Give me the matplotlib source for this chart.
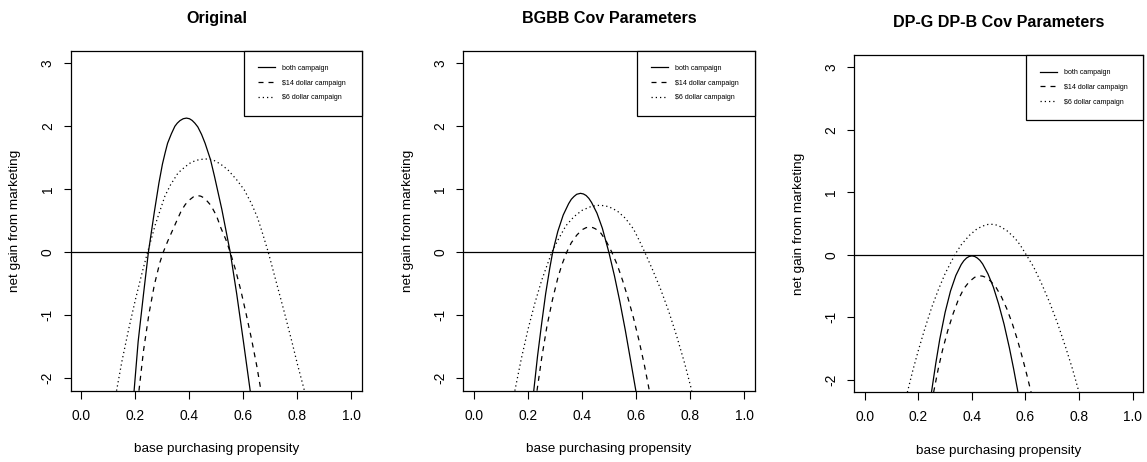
import matplotlib
matplotlib.use("Agg")
from matplotlib import pyplot as plt

plt.rcParams['font.family'] = ['Liberation Sans', 'DejaVu Sans']

panel_titles = ['Original', 'BGBB Cov Parameters', 'DP-G DP-B Cov Parameters']
legend_labels = ['both campaign', r'\$14 dollar campaign', r'\$6 dollar campaign']
x_ticks = [0.0, 0.2, 0.4, 0.6, 0.8, 1.0]
y_ticks = [-2, -1, 0, 1, 2, 3]

# net gain curves, one (x, y) pair per campaign and parameter set
orig_both_x = [0.195, 0.21, 0.23, 0.248, 0.27, 0.287, 0.30, 0.31, 0.319, 0.333, 0.346, 0.355,
               0.365, 0.377, 0.389, 0.40, 0.41, 0.42, 0.431, 0.445, 0.458, 0.478, 0.493,
               0.52, 0.551, 0.575, 0.60, 0.625]
orig_both_y = [-2.2, -1.42, -0.66, 0.0, 0.64, 1.10, 1.40, 1.58, 1.73, 1.88, 2.0, 2.05,
               2.09, 2.12, 2.13, 2.12, 2.093, 2.05, 1.99, 1.87, 1.73, 1.47, 1.20,
               0.68, 0.0, -0.66, -1.42, -2.2]
orig_14_x = [0.213, 0.23, 0.25, 0.27, 0.29, 0.303, 0.32, 0.334, 0.35, 0.37, 0.385, 0.40,
             0.415, 0.429, 0.442, 0.455, 0.468, 0.48, 0.50, 0.517, 0.535, 0.551, 0.57,
             0.59, 0.61, 0.63, 0.65, 0.665]
orig_14_y = [-2.2, -1.56, -0.98, -0.52, -0.17, 0.0, 0.18, 0.315, 0.47, 0.66, 0.76, 0.83,
             0.88, 0.90, 0.89, 0.86, 0.80, 0.74, 0.58, 0.38, 0.20, 0.0, -0.27,
             -0.60, -0.98, -1.38, -1.82, -2.2]
orig_6_x = [0.130, 0.15, 0.175, 0.20, 0.225, 0.245, 0.273, 0.309, 0.33, 0.358, 0.385, 0.407,
            0.435, 0.448, 0.462, 0.476, 0.49, 0.515, 0.542, 0.575, 0.603, 0.63, 0.652, 0.67,
            0.692, 0.72, 0.75, 0.78, 0.80, 0.826]
orig_6_y = [-2.2, -1.73, -1.22, -0.75, -0.32, 0.0, 0.43, 0.89, 1.07, 1.26, 1.36, 1.43,
            1.47, 1.476, 1.48, 1.475, 1.46, 1.40, 1.31, 1.15, 0.99, 0.77, 0.55, 0.31,
            0.0, -0.45, -0.93, -1.43, -1.78, -2.2]

bgbb_both_x = [0.221, 0.235, 0.25, 0.265, 0.28, 0.291, 0.31, 0.33, 0.35, 0.36, 0.37, 0.38,
               0.394, 0.405, 0.415, 0.425, 0.435, 0.455, 0.475, 0.499, 0.52, 0.54, 0.56,
               0.58, 0.599]
bgbb_both_y = [-2.2, -1.65, -1.14, -0.66, -0.26, 0.0, 0.33, 0.59, 0.77, 0.84, 0.885, 0.92,
               0.935, 0.925, 0.90, 0.855, 0.79, 0.62, 0.38, 0.0, -0.38, -0.79, -1.24,
               -1.73, -2.2]
bgbb_14_x = [0.233, 0.25, 0.27, 0.29, 0.31, 0.325, 0.343, 0.36, 0.38, 0.40, 0.415, 0.428,
             0.44, 0.45, 0.47, 0.49, 0.51, 0.53, 0.55, 0.57, 0.59, 0.61, 0.63, 0.649]
bgbb_14_y = [-2.2, -1.69, -1.17, -0.76, -0.41, -0.20, 0.0, 0.15, 0.27, 0.357, 0.39, 0.40,
             0.39, 0.37, 0.30, 0.17, 0.0, -0.20, -0.45, -0.73, -1.04, -1.39, -1.78, -2.2]
bgbb_6_x = [0.151, 0.175, 0.20, 0.225, 0.25, 0.27, 0.288, 0.31, 0.34, 0.37, 0.40, 0.43,
            0.448, 0.465, 0.483, 0.50, 0.53, 0.56, 0.59, 0.61, 0.632, 0.66, 0.69, 0.72,
            0.75, 0.78, 0.806]
bgbb_6_y = [-2.2, -1.69, -1.22, -0.81, -0.45, -0.21, 0.0, 0.19, 0.42, 0.565, 0.665, 0.72,
            0.738, 0.745, 0.738, 0.72, 0.655, 0.54, 0.37, 0.20, 0.0, -0.27, -0.58, -0.93,
            -1.33, -1.77, -2.2]

dp_both_x = [0.249, 0.265, 0.28, 0.30, 0.32, 0.34, 0.36, 0.37, 0.38, 0.39, 0.40, 0.41,
             0.42, 0.43, 0.44, 0.46, 0.48, 0.50, 0.52, 0.54, 0.556, 0.572]
dp_both_y = [-2.2, -1.74, -1.35, -0.92, -0.58, -0.33, -0.155, -0.093, -0.05, -0.025, -0.016,
             -0.025, -0.05, -0.088, -0.145, -0.305, -0.515, -0.79, -1.11, -1.49, -1.83, -2.2]
dp_14_x = [0.257, 0.275, 0.29, 0.31, 0.33, 0.35, 0.37, 0.39, 0.41, 0.42, 0.43, 0.44,
           0.45, 0.47, 0.49, 0.51, 0.53, 0.55, 0.57, 0.59, 0.605, 0.621]
dp_14_y = [-2.2, -1.81, -1.53, -1.21, -0.94, -0.71, -0.54, -0.43, -0.36, -0.342, -0.336,
           -0.341, -0.357, -0.42, -0.52, -0.67, -0.86, -1.09, -1.36, -1.67, -1.92, -2.2]
dp_6_x = [0.159, 0.18, 0.20, 0.225, 0.25, 0.275, 0.30, 0.336, 0.36, 0.39, 0.42, 0.45,
          0.46, 0.471, 0.485, 0.50, 0.53, 0.56, 0.58, 0.603, 0.63, 0.66, 0.69, 0.72, 0.75,
          0.775, 0.80]
dp_6_y = [-2.2, -1.84, -1.53, -1.17, -0.84, -0.555, -0.30, 0.0, 0.16, 0.31, 0.42, 0.478,
          0.487, 0.49, 0.485, 0.467, 0.39, 0.27, 0.16, 0.0, -0.19, -0.46, -0.76, -1.10, -1.48,
          -1.82, -2.2]

panel_curves = [
    [(orig_both_x, orig_both_y), (orig_14_x, orig_14_y), (orig_6_x, orig_6_y)],
    [(bgbb_both_x, bgbb_both_y), (bgbb_14_x, bgbb_14_y), (bgbb_6_x, bgbb_6_y)],
    [(dp_both_x, dp_both_y), (dp_14_x, dp_14_y), (dp_6_x, dp_6_y)],
]

# axes rectangles in figure fractions (left, bottom, width, height)
panel_rects = [
    (0.0616, 0.1543, 0.2542, 0.7359),
    (0.4039, 0.1543, 0.2543, 0.7359),
    (0.7446, 0.1509, 0.2522, 0.7301),
]
line_styles = ['-', (0, (4, 4)), (0, (1, 2.4))]


def draw_panel(ax, curves, title):
    for (xs, ys), ls, lab in zip(curves, line_styles, legend_labels):
        ax.plot(xs, ys, color='black', linestyle=ls, linewidth=0.9, label=lab)
    ax.axhline(0, color='black', linewidth=0.9)

    ax.set_xlim(-0.04, 1.04)
    ax.set_ylim(-2.2, 3.2)
    ax.set_xticks(x_ticks)
    ax.set_xticklabels([f'{t:.1f}' for t in x_ticks])
    ax.set_yticks(y_ticks)
    ax.set_yticklabels([str(t) for t in y_ticks])
    ax.tick_params(direction='out', length=5.4, width=0.8, labelsize=9.9,
                   top=False, right=False)
    ax.tick_params(axis='x', pad=7.5)
    ax.tick_params(axis='y', pad=6, labelrotation=90)
    for lbl in ax.get_yticklabels():
        lbl.set_verticalalignment('center')
    for sp in ax.spines.values():
        sp.set_linewidth(0.9)

    ax.set_title(title, fontsize=11.6, fontweight='bold', pad=19.8)
    ax.set_xlabel('base purchasing propensity', fontsize=9.7)
    ax.set_ylabel('net gain from marketing', fontsize=9.7)
    ax.xaxis.set_label_coords(0.5, -0.155)
    ax.yaxis.set_label_coords(-0.17, 0.5)

    leg = ax.legend(loc='upper right', bbox_to_anchor=(0.595, 0, 0.405, 1), mode='expand',
                    fontsize=5.1, fancybox=False, edgecolor='black', framealpha=1,
                    borderpad=2.0, labelspacing=1.1, handlelength=2.4, handletextpad=1.0,
                    borderaxespad=0)
    leg.get_frame().set_linewidth(0.9)


fig = plt.figure(figsize=(11.47, 4.62), dpi=100)
for rect, curves, title in zip(panel_rects, panel_curves, panel_titles):
    ax = fig.add_axes(rect)
    draw_panel(ax, curves, title)

plt.savefig('out.png', dpi=100)
